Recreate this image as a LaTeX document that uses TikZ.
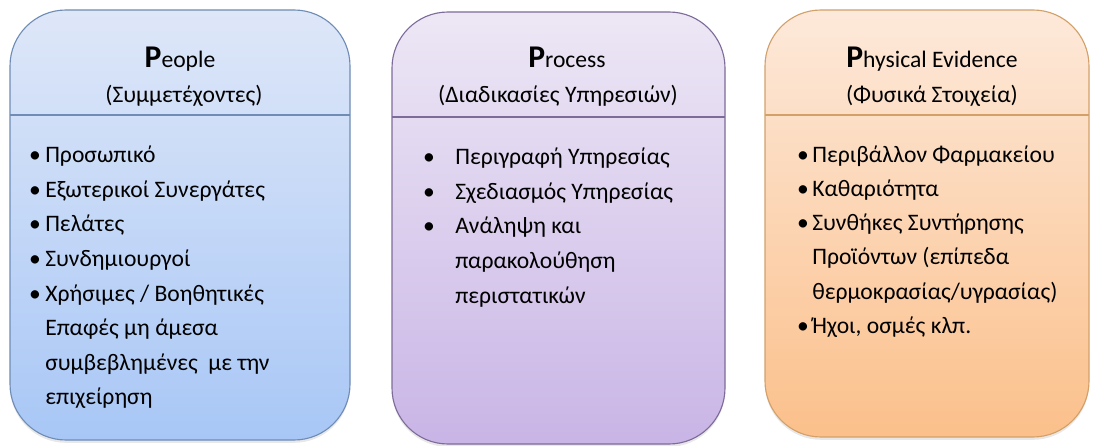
\documentclass[tikz,border=0pt]{standalone}
\usepackage{fontspec}
\setmainfont{Carlito}
\usepackage{xcolor}
\usepackage{tikz}
\usetikzlibrary{shadows}

\definecolor{peopletop}{HTML}{DEE7F8}
\definecolor{peoplebot}{HTML}{A8C7F6}
\definecolor{peopleline}{HTML}{6F8CB5}
\definecolor{processtop}{HTML}{EDE7F5}
\definecolor{processbot}{HTML}{C9B5E6}
\definecolor{processline}{HTML}{7D6B99}
\definecolor{evidtop}{HTML}{FDE9DA}
\definecolor{evidbot}{HTML}{FBC08B}
\definecolor{evidline}{HTML}{D3A06A}

\newcommand{\bigP}{{\fontsize{22.5}{26}\selectfont\bfseries P}}

\begin{document}
\begin{tikzpicture}[x=0.025cm,y=-0.025cm,
panel/.style={draw,line width=0.8pt,rounded corners=1.4cm,
  drop shadow={shadow xshift=0pt,shadow yshift=-2pt,opacity=0.18}},
head/.style={anchor=base,inner sep=0pt,font=\fontsize{16.8}{20}\selectfont},
item/.style={anchor=base west,inner sep=0pt,font=\fontsize{16.8}{20}\selectfont},
dot/.style={anchor=base,inner sep=0pt,font=\fontsize{16.8}{20}\selectfont}]
\useasboundingbox (0,0) rectangle (1093,446);

% People
\path[panel,draw=peopleline,top color=peopletop,bottom color=peoplebot](10,10) rectangle (350,440);
\draw[peopleline,line width=0.8pt](10,115)--(350,115);
\node[head](peopletitle) at (180,68){\bigP eople};
\node[head](peoplesub) at (184,103){(Συμμετέχοντες)};
\foreach \txt [count=\i] in {Προσωπικό,Εξωτερικοί Συνεργάτες,Πελάτες,Συνδημιουργοί,
  {Χρήσιμες / Βοηθητικές},Επαφές μη άμεσα,{συμβεβλημένες\ \ με την},επιχείρηση}
  \node[item](people\i) at (45,{163+34.5*(\i-1)}){\txt};
\foreach \i in {1,...,5}
  \node[dot](peopledot\i) at (35,{163+34.5*(\i-1)}){•};

% Process
\path[panel,draw=processline,top color=processtop,bottom color=processbot](392,12) rectangle (725,444);
\draw[processline,line width=0.8pt](392,117)--(725,117);
\node[head](processtitle) at (567,68){\bigP rocess};
\node[head](processsub) at (558,103){(Διαδικασίες Υπηρεσιών)};
\foreach \txt [count=\i] in {Περιγραφή Υπηρεσίας,Σχεδιασμός Υπηρεσίας,Ανάληψη και,
  παρακολούθηση,περιστατικών}
  \node[item](process\i) at (455,{165+34.5*(\i-1)}){\txt};
\foreach \i in {1,2,3}
  \node[dot](processdot\i) at (429,{165+34.5*(\i-1)}){•};

% Physical Evidence
\path[panel,draw=evidline,top color=evidtop,bottom color=evidbot](765,10) rectangle (1089,437);
\draw[evidline,line width=0.8pt](765,115)--(1089,115);
\node[head](evidtitle) at (932,68){\bigP hysical Evidence};
\node[head](evidsub) at (932,103){(Φυσικά Στοιχεία)};
\foreach \txt [count=\i] in {Περιβάλλον Φαρμακείου,Καθαριότητα,Συνθήκες Συντήρησης,
  Προϊόντων (επίπεδα,{θερμοκρασίας/υγρασίας)},{Ήχοι, οσμές κλπ.}}
  \node[item](evid\i) at (812,{163+34*(\i-1)}){\txt};
\foreach \i in {1,2,3,6}
  \node[dot](eviddot\i) at (803,{163+34*(\i-1)}){•};
\end{tikzpicture}
\end{document}
